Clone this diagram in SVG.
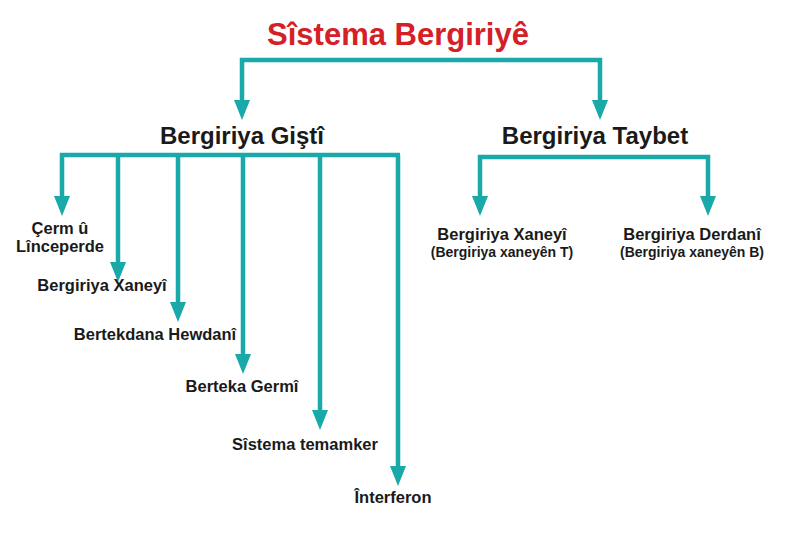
<svg xmlns="http://www.w3.org/2000/svg" width="800" height="555" viewBox="0 0 800 555">
<style>
.c{fill:none;stroke:#1aa9a9;stroke-width:4.5}
text{font-family:"Liberation Sans",Arial,sans-serif;font-weight:bold;fill:#1a1a1a;text-anchor:middle}
.s{font-size:16.5px}.h{font-size:24px}.p{font-size:14px}
</style>
<rect width="800" height="555" fill="#fff"/>
<g id="connectors">
<path class="c" d="M242,104 V60 H600 V104"/>
<path class="c" d="M62,200 V155 H400"/>
<path class="c" d="M118,266 V155"/>
<path class="c" d="M178,306 V155"/>
<path class="c" d="M243,358 V155"/>
<path class="c" d="M320,414 V155"/>
<path class="c" d="M398,470 V155"/>
<path class="c" d="M480,200 V157 H708 V200"/>
<g fill="#1aa9a9">
<path d="M234,100 L250,100 L242,120 Z"/><path d="M592,100 L608,100 L600,120 Z"/>
<path d="M54,196 L70,196 L62,216 Z"/><path d="M110,262 L126,262 L118,282 Z"/>
<path d="M170,302 L186,302 L178,322 Z"/><path d="M235,354 L251,354 L243,374 Z"/>
<path d="M312,410 L328,410 L320,430 Z"/><path d="M390,466 L406,466 L398,486 Z"/>
<path d="M472,196 L488,196 L480,216 Z"/><path d="M700,196 L716,196 L708,216 Z"/>
</g>
</g>
<g id="title"><text x="398" y="45" style="font-size:31px;fill:#d42027">Sîstema Bergiriyê</text></g>
<g id="gisti"><text class="h" x="242" y="144">Bergiriya Giştî</text></g>
<g id="taybet"><text class="h" x="595" y="144">Bergiriya Taybet</text></g>
<g id="n1"><text class="s" x="60" y="234">Çerm û</text><text class="s" x="60" y="252">Lînceperde</text></g>
<g id="n2"><text class="s" x="102" y="291">Bergiriya Xaneyî</text></g>
<g id="n3"><text class="s" x="155" y="340">Bertekdana Hewdanî</text></g>
<g id="n4"><text class="s" x="242" y="392">Berteka Germî</text></g>
<g id="n5"><text class="s" x="305" y="450">Sîstema temamker</text></g>
<g id="n6"><text class="s" x="393" y="503">Înterferon</text></g>
<g id="n7"><text class="s" x="502" y="240">Bergiriya Xaneyî</text><text class="p" x="502" y="257">(Bergiriya xaneyên T)</text></g>
<g id="n8"><text class="s" x="692" y="240">Bergiriya Derdanî</text><text class="p" x="692" y="257">(Bergiriya xaneyên B)</text></g>
</svg>
